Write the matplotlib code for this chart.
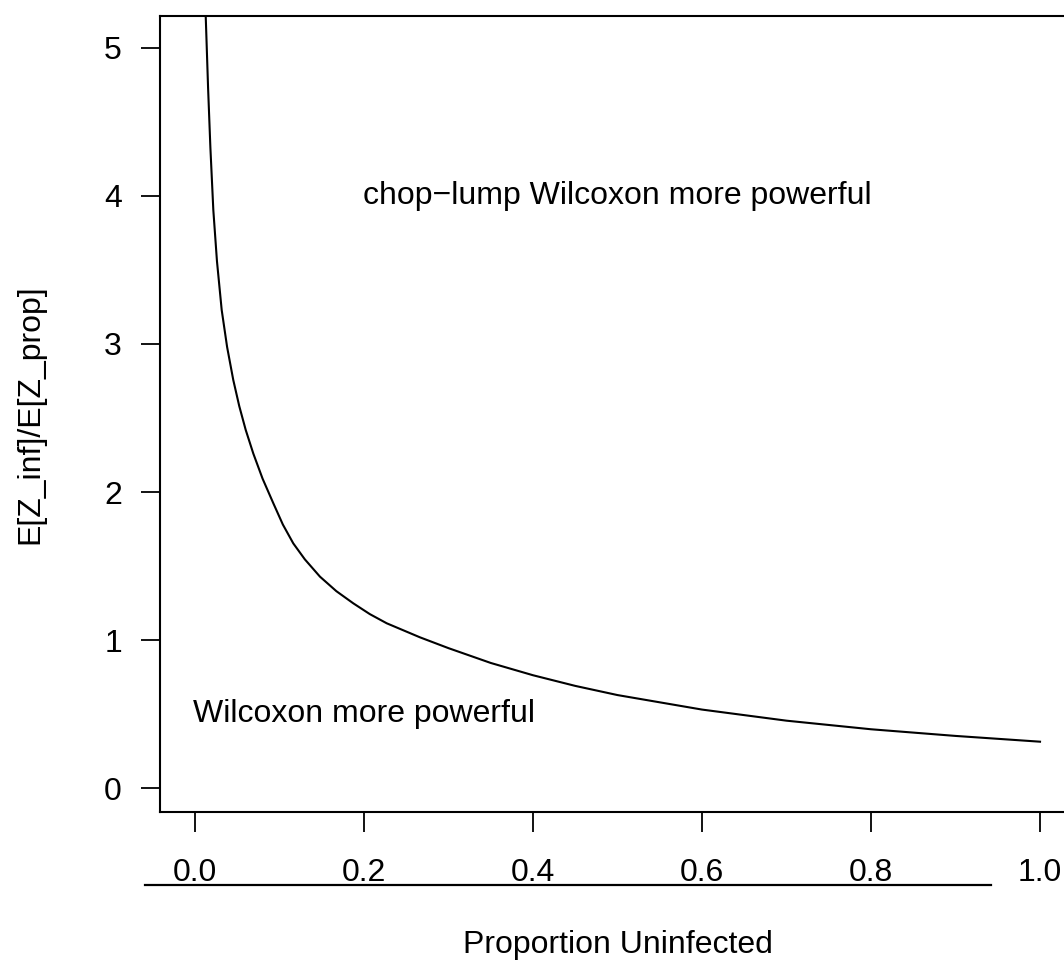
import matplotlib
matplotlib.use("Agg")
import matplotlib.pyplot as plt
from matplotlib.lines import Line2D

# ---- data ----
prop_uninfected = [0.0125, 0.0155, 0.0182, 0.0217, 0.026, 0.0316, 0.038, 0.0453,
                   0.0524, 0.06, 0.069, 0.08, 0.0927, 0.104, 0.1163, 0.13,
                   0.1479, 0.1673, 0.1873, 0.2069, 0.2269, 0.2663, 0.3, 0.35,
                   0.4, 0.45, 0.5, 0.6, 0.7, 0.8, 0.9, 1.0]
ratio = [5.25, 4.73, 4.33, 3.905, 3.56, 3.23, 2.98, 2.757,
         2.58, 2.42, 2.26, 2.09, 1.924, 1.78, 1.653, 1.545,
         1.428, 1.33, 1.248, 1.175, 1.113, 1.018, 0.945, 0.845,
         0.762, 0.69, 0.628, 0.53, 0.455, 0.397, 0.352, 0.313]
x_ticks = [0.0, 0.2, 0.4, 0.6, 0.8, 1.0]
x_tick_labels = ["0.0", "0.2", "0.4", "0.6", "0.8", "1.0"]
y_ticks = [0, 1, 2, 3, 4, 5]
y_tick_labels = ["0", "1", "2", "3", "4", "5"]
x_label = "Proportion Uninfected"
y_label = "E[Z_inf]/E[Z_prop]"
annotations = [(0.5, 4.0, "chop\u2212lump Wilcoxon more powerful"),
               (0.2, 0.5, "Wilcoxon more powerful")]

plt.rcParams['font.family'] = ['Liberation Sans', 'DejaVu Sans']
FS = 23

W, H = 1064, 964
fig = plt.figure(figsize=(W / 100, H / 100), dpi=100)

# axes box in pixels: left 160, right ~1074 (beyond image), top 16, bottom 812
L, R, T, B = 160, 1074, 16, 812
ax = fig.add_axes([L / W, 1 - B / H, (R - L) / W, (B - T) / H])
ax.set_xlim(-0.0414, 1.0402)
ax.set_ylim(-0.162, 5.216)

ax.plot(prop_uninfected, ratio, color="black", lw=1.5,
        solid_joinstyle="round", antialiased=True)

for x, y, s in annotations:
    ax.text(x, y, s, ha="center", va="center", fontsize=FS)

for sp in ax.spines.values():
    sp.set_linewidth(1.5)

ax.set_xticks(x_ticks)
ax.set_xticklabels(x_tick_labels)
ax.set_yticks(y_ticks)
ax.set_yticklabels(y_tick_labels)
ax.tick_params(axis="x", direction="out", length=14.4, width=1.3, pad=18.5, labelsize=FS)
ax.tick_params(axis="y", direction="out", length=13.7, width=1.3, pad=13.7, labelsize=FS)

# odd underline below the x tick labels
fig.add_artist(Line2D([145 / W, 991 / W], [1 - 884.5 / H, 1 - 884.5 / H],
                      color="black", lw=1.6, transform=fig.transFigure))

fig.text(618 / W, 1 - 945 / H, x_label, ha="center", va="center", fontsize=FS)
fig.text(30 / W, 1 - 414 / H, y_label, ha="center", va="center", rotation=90, fontsize=FS)

fig.savefig("out.png", dpi=100)
